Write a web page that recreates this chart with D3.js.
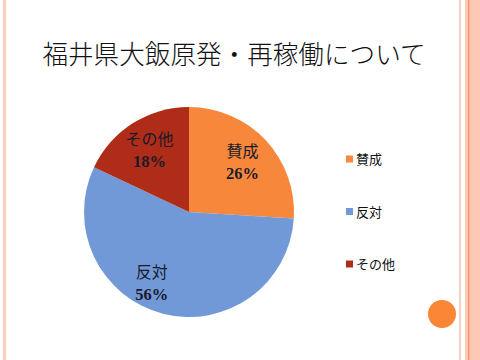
<!DOCTYPE html>
<html><head><meta charset="utf-8">
<script src="https://cdn.jsdelivr.net/npm/d3@7"></script>
<style>html,body{margin:0;padding:0;background:#fff;overflow:hidden}</style>
</head><body>
<svg id="c" width="480" height="360"></svg>
<script>
const title = "福井県大飯原発・再稼働について";
const categories = ["賛成", "反対", "その他"];
const values = [26, 56, 18];
const valueLabels = ["26%", "56%", "18%"];
const colors = ["#F7883B", "#7299D7", "#AE2C18"];

const svg = d3.select("#c");
// slide decoration
svg.append("rect").attr("x",3).attr("y",0).attr("width",3).attr("height",360).attr("fill","#FBCDBB");
svg.append("rect").attr("x",459).attr("y",0).attr("width",2).attr("height",360).attr("fill","#F6D2C4");
svg.append("rect").attr("x",465).attr("y",0).attr("width",15).attr("height",360).attr("fill","#FDC9B4");
svg.append("rect").attr("x",468).attr("y",0).attr("width",1.5).attr("height",360).attr("fill","#F29A6A");
svg.append("circle").attr("cx",442).attr("cy",314).attr("r",14).attr("fill","#FB8636");

svg.append("text").attr("x",234).attr("y",64).attr("text-anchor","middle")
  .attr("font-family","'Noto Sans CJK JP'").attr("font-weight",300).attr("font-size",25.6)
  .attr("fill","#111").text(title);

const cx = 189, cy = 212, r = 105;
const pie = d3.pie().sort(null).value(d => d)(values);
const arc = d3.arc().innerRadius(0).outerRadius(r);
const g = svg.append("g").attr("transform",`translate(${cx},${cy})`);
g.selectAll("path").data(pie).join("path").attr("d",arc).attr("fill",(d,i)=>colors[i]);

const labelArc = d3.arc().innerRadius(r*0.70).outerRadius(r*0.70);
// best-fit nudge for the large slice label (as placed in the original)
const nudge = [0, -19, 0];
const lbl = g.selectAll("g.lbl").data(pie).join("g").attr("class","lbl")
  .attr("transform",(d,i)=>{const c=labelArc.centroid(d);return `translate(${c[0]+nudge[i]},${c[1]})`;});
lbl.append("text").attr("text-anchor","middle").attr("y",-5)
  .attr("font-family","'Noto Sans CJK JP'").attr("font-size",16).attr("fill","#1a1a2a")
  .text((d,i)=>categories[i]);
lbl.append("text").attr("text-anchor","middle").attr("y",17)
  .attr("font-family","'Liberation Serif'").attr("font-weight","bold").attr("font-size",16.5).attr("fill","#1a1a2a")
  .text((d,i)=>valueLabels[i]);

const ly = d3.scalePoint().domain(categories).range([159, 264]);
const leg = svg.append("g").selectAll("g").data(categories).join("g")
  .attr("transform",d=>`translate(346,${ly(d)})`);
leg.append("rect").attr("x",0).attr("y",-3.5).attr("width",7).attr("height",7).attr("fill",(d,i)=>colors[i]);
leg.append("text").attr("x",10).attr("y",5).attr("font-family","'Noto Sans CJK JP'").attr("font-size",13)
  .attr("fill","#111").text(d=>d);
</script>
</body></html>
